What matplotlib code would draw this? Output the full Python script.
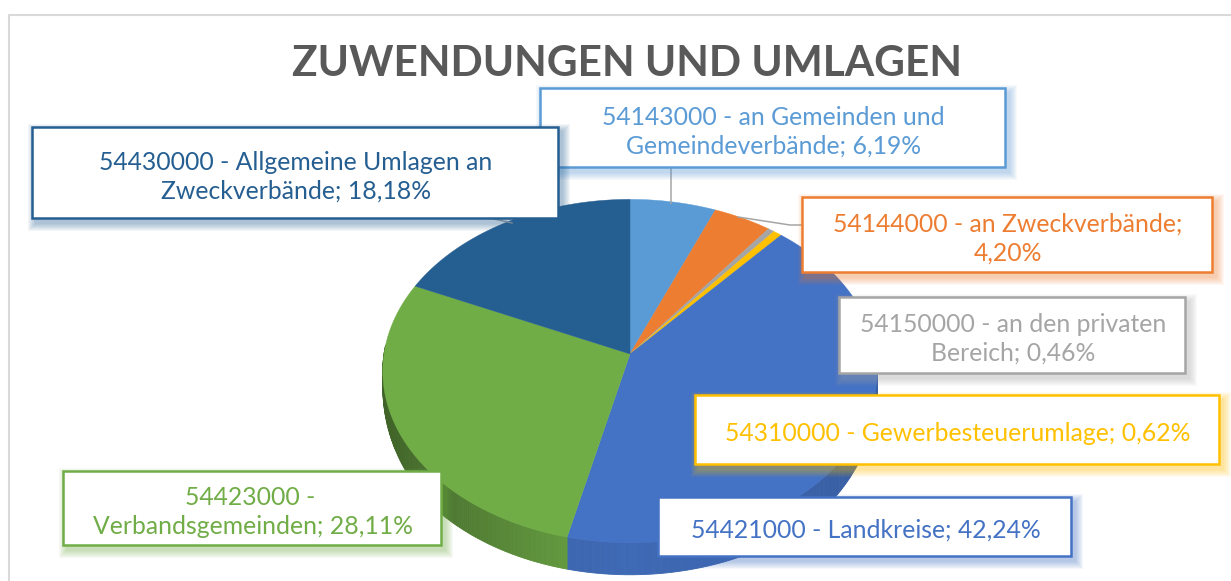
import matplotlib
matplotlib.use("Agg")
import matplotlib.pyplot as plt
from matplotlib.patches import Rectangle
import numpy as np

TITLE = "ZUWENDUNGEN UND UMLAGEN"
codes = ["54143000", "54144000", "54150000", "54310000",
         "54421000", "54423000", "54430000"]
names = ["an Gemeinden und\nGemeindeverbände", "an Zweckverbände",
         "an den privaten\nBereich", "Gewerbesteuerumlage", "Landkreise",
         "\nVerbandsgemeinden", "Allgemeine Umlagen an\nZweckverbände"]
shares = [6.19, 4.20, 0.46, 0.62, 42.24, 28.11, 18.18]
colors = ["#5b9bd5", "#ed7d31", "#a5a5a5", "#ffc000",
          "#4472c4", "#70ad47", "#255e91"]
# text before the percentage: line break for the orange label only
separators = ["; ", ";\n", "; ", "; ", "; ", "; ", "; "]

# label boxes in pixels: left, top, right, bottom
boxes = [(540, 88, 1005, 167), (802, 197, 1212, 272), (839, 297, 1185, 373),
         (695, 395, 1219, 464), (658, 497, 1071, 556), (63, 471, 441, 545),
         (32, 127, 558, 218)]
CX, CY = 630, 354
RX, RY, P = 246, 170, 0.0994
DEPTH = 32


def project(theta):
    """
    Tilted circle to pixels, theta clockwise from the top.
    """
    u, v = np.sin(theta), np.cos(theta)
    w = 1 + P * v
    return CX + RX * u / w, CY - RY * v / w


def side_depth(theta):
    """
    The side gets thinner towards the far ends of the pie.
    """
    return DEPTH * np.sqrt(np.clip((-np.cos(theta) + 0.05) / 0.75, 0, 1))


def shade(color, factor):
    rgb = np.array(matplotlib.colors.to_rgb(color))
    return tuple(rgb * factor)


fig = plt.figure(figsize=(12.31, 5.81), dpi=100)
ax = fig.add_axes([0, 0, 1, 1])
ax.set_xlim(0, 1231)
ax.set_ylim(581, 0)
ax.axis("off")
plt.rcParams["font.family"] = ["Lato", "DejaVu Sans"]

# chart frame, open on the right
ax.plot([8.5, 8.5, 1231], [581, 14.5, 14.5], color="#d9d9d9", lw=1.5)

edges = np.cumsum([0] + shares) / sum(shares) * 2 * np.pi

# side of the pie, only the front part shows
for i, color in enumerate(colors):
    for t0 in np.arange(edges[i], edges[i + 1], 0.01):
        t = np.array([t0, min(t0 + 0.01, edges[i + 1])])
        if np.cos(t0) > 0.05:
            continue
        x, y = project(t)
        d = side_depth(t)
        u = abs(np.sin(t0))
        f = 0.98 - 0.42 * u if np.sin(t0) < 0 and i == 5 else 0.92 - 0.1 * u
        c = shade(color, f)
        ax.fill([x[0], x[1], x[1], x[0]],
                [y[0], y[1], y[1] + d[1], y[0] + d[0]],
                facecolor=c, edgecolor=c, lw=0.6, zorder=1)

# top of the pie
for i, color in enumerate(colors):
    x, y = project(np.linspace(edges[i], edges[i + 1], 200))
    ax.fill(np.r_[CX, x], np.r_[CY, y], color=color, lw=0.3, zorder=2)

# leader lines
ax.plot([671, 671], [167, 203], color="#a5a5a5", lw=1.1, zorder=3)
ax.plot([738, 790, 802], [217, 225, 225], color="#a5a5a5", lw=1.1, zorder=3)
ax.plot([490, 512], [218, 223], color="#a5a5a5", lw=1.1, zorder=3)

# labels, the dark blue box sits on top of the first one
for z, (box, code, name, sep, value, color) in enumerate(
        zip(boxes, codes, names, separators, shares, colors)):
    left, top, right, bottom = box
    zorder = 10 + z
    for grow in np.arange(8, 0, -1.0):
        ax.add_patch(Rectangle((left + 4 - grow, top + 5 - grow),
                               right - left + 2 * grow, bottom - top + 2 * grow,
                               color=color, alpha=0.055, lw=0, zorder=zorder))
    ax.add_patch(Rectangle((left, top), right - left, bottom - top,
                           facecolor="white", edgecolor=color, lw=1.8,
                           zorder=zorder))
    value_text = f"{value:.2f}".replace(".", ",")
    label = f"{code} - {name}{sep}{value_text}%"
    ax.text((left + right) / 2 + 1, (top + bottom) / 2 + 4, label, color=color,
            fontsize=17.8, ha="center", va="center", linespacing=1.3,
            zorder=zorder)

ax.text(627, 64, TITLE, color="#595959", fontsize=30.5, fontweight="bold",
        ha="center", va="center", zorder=5)

fig.savefig("out.png", dpi=100)
